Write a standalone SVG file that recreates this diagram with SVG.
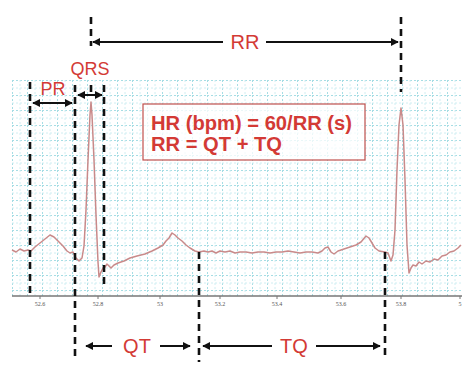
<svg xmlns="http://www.w3.org/2000/svg" width="474" height="387" viewBox="0 0 474 387">
<style>
.dash{stroke:#111;stroke-width:2.6;stroke-dasharray:7 5;fill:none}
.arr{stroke:#111;stroke-width:2;fill:none}
.lbl{font-family:"Liberation Sans",Arial,sans-serif;fill:#d33a35;text-anchor:middle}
.fml{font-family:"Liberation Sans",Arial,sans-serif;fill:#d33a35;font-weight:bold;font-size:20px}
.tick{font-family:"Liberation Serif",serif;font-size:6px;fill:#555;text-anchor:middle}
.ecg{fill:none;stroke:#c98a8a;stroke-width:1.5;stroke-linejoin:round}
</style>
<defs>
<marker id="ah" viewBox="0 0 10 10" refX="9" refY="5" markerWidth="4" markerHeight="4" orient="auto-start-reverse"><path d="M0,0 L10,5 L0,10 z" fill="#111"/></marker>
<pattern id="gp" x="12" y="80" width="15" height="15" patternUnits="userSpaceOnUse">
<path d="M0,0.5 H15 M0.5,0 V15" stroke="#a6dde4" stroke-width="1" stroke-dasharray="2 2" fill="none"/>
<path d="M0,8 H15 M8,0 V15" stroke="#d0eef2" stroke-width="1" stroke-dasharray="2 2" fill="none"/>
</pattern>
</defs>
<rect width="474" height="387" fill="#fff"/>
<g id="grid">
<rect x="12" y="80" width="450" height="216" fill="url(#gp)"/>
<line x1="12" y1="296" x2="462" y2="296" stroke="#777" stroke-width="1.5"/>
<g stroke="#777" stroke-width="1">
<line x1="40" y1="296" x2="40" y2="299"/><line x1="98" y1="296" x2="98" y2="299"/><line x1="160" y1="296" x2="160" y2="299"/><line x1="220" y1="296" x2="220" y2="299"/><line x1="277" y1="296" x2="277" y2="299"/><line x1="341" y1="296" x2="341" y2="299"/><line x1="401" y1="296" x2="401" y2="299"/><line x1="460" y1="296" x2="460" y2="299"/>
</g>
<text class="tick" x="40" y="306">52.6</text>
<text class="tick" x="98" y="306">52.8</text>
<text class="tick" x="160" y="306">53</text>
<text class="tick" x="220" y="306">53.2</text>
<text class="tick" x="277" y="306">53.4</text>
<text class="tick" x="341" y="306">53.6</text>
<text class="tick" x="401" y="306">53.8</text>
<text class="tick" x="460" y="306">5</text>
</g>
<g id="ecg">
<polyline class="ecg" points="12,250 16,252 20,249 24,251 28,250 31,251 35,247 40,243 45,239 50,235 54,237 58,241 63,246 67,251 70,253 73,252 76,258 79,261 82,258 84,246 86,210 88,160 90,115 91,102 92,115 94,160 96,215 98,262 99,277 101,272 103,268 105,267 107,264 109,266 111,268 114,265 118,263 124,261 130,258 137,256 145,254 152,251 158,248 163,245 166,241 169,238 172,233 175,235 178,238 182,241 186,245 190,248 195,251 199,252 204,251 208,252 212,251 216,253 220,251 225,252 230,251 235,253 240,252 246,252 252,253 258,252 264,252 270,253 276,252 282,252 288,251 294,252 300,253 306,252 312,252 318,253 322,251 325,248 328,247 331,252 334,254 338,251 344,249 350,247 356,245 361,242 366,236 369,238 372,243 375,248 379,251 385,252 388,253 391,261 393,255 395,230 397,170 399,125 401,108 403,125 405,180 407,245 409,273 411,268 413,265 416,266 419,262 422,264 426,261 430,262 434,259 438,260 442,256 446,255 450,252 454,251 458,248 461,245"/>
</g>
<g id="connectors">
<line class="dash" x1="30" y1="82" x2="30" y2="293"/>
<line class="dash" x1="75" y1="85" x2="75" y2="358"/>
<line class="dash" x1="104" y1="85" x2="104" y2="287"/>
<line class="dash" x1="91" y1="17" x2="91" y2="46" stroke-dasharray="2 6 7 5"/>
<line class="dash" x1="91" y1="85" x2="91" y2="92"/>
<line class="dash" x1="199" y1="252" x2="199" y2="362"/>
<line class="dash" x1="385" y1="252" x2="385" y2="360"/>
<line class="dash" x1="401" y1="17" x2="401" y2="92" stroke-dasharray="2 6 7 5"/>
<line class="arr" x1="223" y1="42" x2="93" y2="42" marker-end="url(#ah)"/>
<line class="arr" x1="266" y1="42" x2="398" y2="42" marker-end="url(#ah)"/>
<line class="arr" x1="33" y1="103" x2="72" y2="103" marker-start="url(#ah)" marker-end="url(#ah)"/>
<line class="arr" x1="78" y1="95" x2="102" y2="95" marker-start="url(#ah)" marker-end="url(#ah)"/>
<line class="arr" x1="112" y1="346" x2="86" y2="346" marker-end="url(#ah)"/>
<line class="arr" x1="160" y1="346" x2="190" y2="346" marker-end="url(#ah)"/>
<line class="arr" x1="272" y1="346" x2="203" y2="346" marker-end="url(#ah)"/>
<line class="arr" x1="316" y1="346" x2="380" y2="346" marker-end="url(#ah)"/>
</g>
<g id="labels">
<text class="lbl" x="245" y="49" font-size="20">RR</text>
<text class="lbl" x="53" y="95" font-size="18">PR</text>
<text class="lbl" x="90" y="75" font-size="18">QRS</text>
<text class="lbl" x="137" y="353" font-size="20">QT</text>
<text class="lbl" x="294" y="353" font-size="20">TQ</text>
</g>
<g id="formula">
<rect x="143" y="104" width="222" height="56" fill="#fff" fill-opacity="0.75" stroke="#c0504d" stroke-width="1.2"/>
<text class="fml" x="151" y="130" textLength="201" lengthAdjust="spacingAndGlyphs">HR (bpm) = 60/RR (s)</text>
<text class="fml" x="151" y="151" textLength="131" lengthAdjust="spacingAndGlyphs">RR = QT + TQ</text>
</g>
</svg>
